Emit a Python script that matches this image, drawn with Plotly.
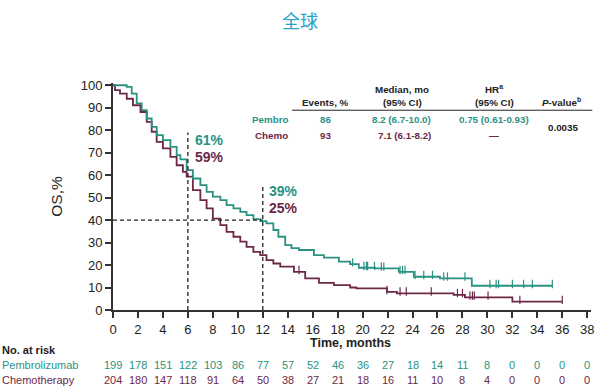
import numpy as np
import plotly.graph_objects as go

# ---- data ----
pembro_t = [0, 1.1, 1.5, 1.9, 2.3, 2.7, 3.1, 3.5, 4.0, 4.6, 5.1, 5.4, 5.9, 6.4, 7.0, 7.5, 8.0, 8.6,
            9.1, 9.65, 10.2, 10.7, 11.25, 11.8, 12.3, 12.85, 13.25, 13.8, 14.3, 14.9, 16.1, 16.9,
            18.1, 19.0, 19.7, 21.0, 22.9, 24.1, 26.2, 28.75, 35.2]
pembro_s = [100, 99.3, 96.3, 91.9, 88.9, 85.2, 81.5, 77.8, 75.6, 72.6, 68.9, 67.0, 62.2, 58.5, 55.6,
            52.6, 50.4, 48.9, 46.7, 45.2, 43.7, 42.2, 40.4, 39.5, 38.5, 35.6, 32.6, 28.9, 27.5, 26.7,
            24.4, 23.3, 21.5, 20.4, 18.8, 18.5, 17.0, 14.8, 14.1, 10.8, 10.8]
pembro_cens = [19.2, 20.1, 20.3, 20.4, 20.95, 21.5, 21.7, 23.0, 23.2, 23.4, 24.2, 24.9, 25.6,
               26.5, 26.8, 28.2, 30.2, 30.7, 30.9, 32.0, 32.9, 33.6, 35.2]

chemo_t = [0, 0.16, 0.56, 1.1, 1.6, 2.2, 2.7, 3.1, 3.5, 4.0, 4.6, 5.1, 5.6, 5.9, 6.4, 7.0, 7.5, 8.0,
           8.6, 9.1, 9.65, 10.2, 10.7, 11.25, 11.8, 12.3, 12.85, 13.4, 14.5, 15.4, 16.5, 17.7,
           19.0, 19.5, 21.95, 22.75, 27.3, 28.2, 32.0, 36.0]
chemo_s = [100, 97.8, 96.3, 94.0, 91.1, 88.1, 83.7, 79.3, 74.8, 71.9, 68.1, 64.4, 61.5, 59.3, 53.3,
           48.9, 45.2, 40.7, 37.8, 34.8, 32.6, 30.4, 28.1, 25.9, 24.4, 22.2, 20.7, 19.3, 17.0, 14.1,
           12.1, 11.1, 10.0, 9.6, 8.1, 7.4, 6.7, 5.6, 3.7, 3.7]
chemo_cens = [14.9, 21.95, 23.0, 23.5, 25.5, 27.6, 28.0, 28.6, 28.8, 28.95, 30.05, 32.6, 36.0]

risk_times = list(range(0, 39, 2))
risk_pembro = [199, 178, 151, 122, 103, 86, 77, 57, 52, 46, 36, 27, 18, 14, 11, 8, 0, 0, 0, 0]
risk_chemo = [204, 180, 147, 118, 91, 64, 50, 38, 27, 21, 18, 16, 11, 10, 8, 4, 0, 0, 0, 0]

x_ticks = list(range(0, 39, 2))
y_ticks = list(range(0, 101, 10))

# ---- style ----
TEAL = "#2a9282"
MAROON = "#6d2848"
DARK = "#333333"
FONT = "Liberation Sans"

W_PX, H_PX = 600, 391
L, R_EDGE = 113, 590.7
T_EDGE, B = 82.75, 310
PW, PH = R_EDGE - L, B - T_EDGE


def px(x):
    return (x - L) / PW


def py(y):
    return (B - y) / PH


def step_val(ts, ss, t):
    i = np.searchsorted(np.array(ts), t, side="right") - 1
    return ss[max(i, 0)]


fig = go.Figure()
fig.add_trace(go.Scatter(x=chemo_t, y=chemo_s, mode="lines", line=dict(color=MAROON, width=1.8, shape="hv"),
                         showlegend=False, hoverinfo="skip"))
fig.add_trace(go.Scatter(x=pembro_t, y=pembro_s, mode="lines", line=dict(color=TEAL, width=1.8, shape="hv"),
                         showlegend=False, hoverinfo="skip"))
fig.add_trace(go.Scatter(x=chemo_cens, y=[step_val(chemo_t, chemo_s, t) + 0.8 for t in chemo_cens],
                         mode="markers", marker=dict(symbol="line-ns", size=6, line=dict(color=MAROON, width=1.2)),
                         showlegend=False, hoverinfo="skip"))
fig.add_trace(go.Scatter(x=pembro_cens, y=[step_val(pembro_t, pembro_s, t) + 0.8 for t in pembro_cens],
                         mode="markers", marker=dict(symbol="line-ns", size=6, line=dict(color=TEAL, width=1.2)),
                         showlegend=False, hoverinfo="skip"))

dash = dict(color="#222222", width=1.3, dash="4px,3px")
fig.add_shape(type="line", x0=6, x1=6, y0=0, y1=79, xref="x", yref="y", line=dash)
fig.add_shape(type="line", x0=12, x1=12, y0=0, y1=56, xref="x", yref="y", line=dash)
fig.add_shape(type="line", x0=0, x1=12, y0=40, y1=40, xref="x", yref="y", line=dash)

ann = []


def txt(x, y, text, color="#222222", size=10, xanchor="center", bold=True, xref="paper", family=FONT):
    ann.append(dict(x=x, y=y, xref=xref, yref="paper", text=(f"<b>{text}</b>" if bold else text),
                    showarrow=False, font=dict(family=family, size=size, color=color),
                    xanchor=xanchor, yanchor="middle"))


# title
txt(px(300), py(20), "全球", color="#2aa3c9", size=18, bold=False, family="Noto Sans CJK SC")

# percentage labels
txt(px(193), py(140), "61%", color=TEAL, size=14, xanchor="left")
txt(px(193), py(157), "59%", color=MAROON, size=14, xanchor="left")
txt(px(267), py(191), "39%", color=TEAL, size=14, xanchor="left")
txt(px(267), py(208), "25%", color=MAROON, size=14, xanchor="left")

# table
hs = 9.8
txt(px(325), py(102), "Events, %", size=hs)
txt(px(402), py(89), "Median, mo", size=hs)
txt(px(402), py(102), "(95% CI)", size=hs)
txt(px(494), py(89), "HR<sup>a</sup>", size=hs)
txt(px(494), py(102), "(95% CI)", size=hs)
txt(px(561), py(102), "<i>P</i>-value<sup>b</sup>", size=hs)
txt(px(290), py(119), "Pembro", color=TEAL, size=hs, xanchor="right")
txt(px(290), py(135), "Chemo", color=MAROON, size=hs, xanchor="right")
txt(px(325), py(119), "86", color=TEAL, size=hs)
txt(px(325), py(135), "93", color=MAROON, size=hs)
txt(px(401), py(119), "8.2 (6.7-10.0)", color=TEAL, size=hs)
txt(px(404), py(135), "7.1 (6.1-8.2)", color=MAROON, size=hs)
txt(px(494), py(119), "0.75 (0.61-0.93)", color=TEAL, size=hs)
txt(px(494), py(135), "—", color=MAROON, size=hs)
txt(px(563), py(127), "0.0035", size=hs)
fig.add_shape(type="line", xref="paper", yref="paper", x0=px(292), x1=px(592), y0=py(110), y1=py(110),
              line=dict(color="#222222", width=1))

# risk table
txt(px(350), py(343), "Time, months", size=12.5)
txt(px(0), py(350), "No. at risk", size=11, xanchor="left")
txt(px(0), py(365), "Pembrolizumab", color=TEAL, size=11, xanchor="left", bold=False)
txt(px(0), py(380), "Chemotherapy", color=MAROON, size=11, xanchor="left", bold=False)
for t, a, b in zip(risk_times, risk_pembro, risk_chemo):
    txt(t, py(365), str(a), color=TEAL, size=11, xref="x", bold=False)
    txt(t, py(380), str(b), color=MAROON, size=11, xref="x", bold=False)

fig.update_layout(
    width=W_PX, height=H_PX,
    margin=dict(l=L, r=W_PX - R_EDGE, t=T_EDGE, b=H_PX - B, autoexpand=False),
    paper_bgcolor="white", plot_bgcolor="white",
    annotations=ann,
    xaxis=dict(range=[0, 38.3], tickvals=x_ticks, ticks="outside", ticklen=6, tickwidth=1.5, tickcolor=DARK,
               showline=True, linecolor=DARK, linewidth=2, showgrid=False, zeroline=False,
               tickfont=dict(family=FONT, size=13, color="#222222")),
    yaxis=dict(range=[0, 101], tickvals=y_ticks, ticks="outside", ticklen=6, tickwidth=1.5, tickcolor=DARK,
               showline=True, linecolor=DARK, linewidth=2, showgrid=False, zeroline=False,
               tickfont=dict(family=FONT, size=13, color="#222222"),
               title=dict(text="OS,%", font=dict(family=FONT, size=15.5, color="#222222"), standoff=14)),
)
fig.update_xaxes(tickprefix="<b>", ticksuffix="</b>")
fig.update_yaxes(tickprefix="<b>", ticksuffix="</b>")

fig.write_html("out.html", config={"displayModeBar": False},
               post_script="document.body.style.margin='0';document.body.style.overflow='hidden';")
